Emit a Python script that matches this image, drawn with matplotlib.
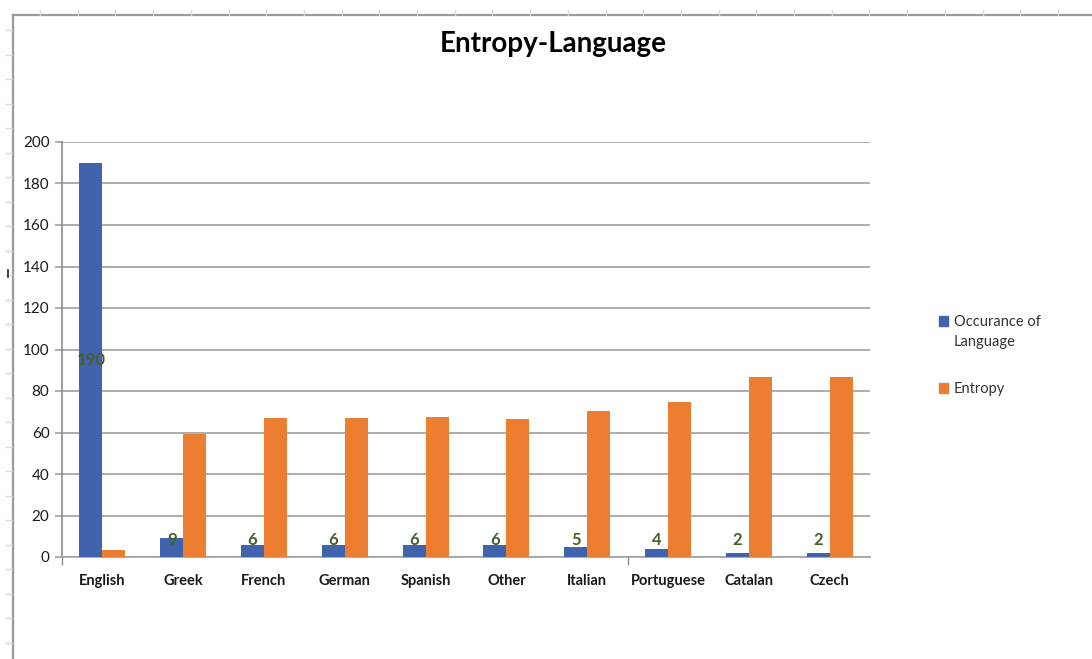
import matplotlib.pyplot as plt
from matplotlib.lines import Line2D
from matplotlib.patches import Rectangle
import numpy as np

# chart data
languages = ['English', 'Greek', 'French', 'German', 'Spanish',
             'Other', 'Italian', 'Portuguese', 'Catalan', 'Czech']
occurance = [190, 9, 6, 6, 6, 6, 5, 4, 2, 2]
entropy = [3.5, 59.5, 67.2, 67.2, 67.5, 66.5, 70.5, 74.5, 86.8, 86.8]
y_ticks = [0, 20, 40, 60, 80, 100, 120, 140, 160, 180, 200]

BLUE = '#3F64AD'
ORANGE = '#ED7D31'
GRID = '#A6A6A6'
LABEL_GREEN = '#44602A'

plt.rcParams['font.family'] = ['Lato', 'DejaVu Sans']

W, H = 1092, 659
fig = plt.figure(figsize=(W / 100, H / 100), dpi=100)
fig.patch.set_facecolor('white')

# worksheet frame around the chart object
def px_line(x0, y0, x1, y1, color, lw):
    fig.add_artist(Line2D([x0 / W, x1 / W], [1 - y0 / H, 1 - y1 / H],
                          color=color, lw=lw, transform=fig.transFigure))

px_line(13, 15, W, 15, '#9A9A9A', 1.6)
px_line(13, 15, 13, H, '#9A9A9A', 1.6)
for cx in np.arange(40, W, 37.7):
    px_line(cx, 10, cx, 15, '#D0D5E0', 1.0)
for cy in np.arange(30, H, 24.5):
    px_line(6, cy, 12, cy, '#D0D6E4', 1.0)
px_line(8, 270, 8, 277, '#222222', 1.2)

ax = fig.add_axes([62 / W, 1 - 557 / H, (870 - 62) / W, (557 - 142) / H])

x = np.arange(len(languages))
bw = 0.285
ax.bar(x - bw / 2, occurance, bw, color=BLUE, zorder=3)
ax.bar(x + bw / 2, entropy, bw, color=ORANGE, zorder=3)

# value labels on the occurance bars, kept clear of the axis line
for xi, v in zip(x, occurance):
    ax.text(xi - bw / 2, max(v / 2, 8.2), str(v), ha='center', va='center',
            fontsize=12, fontweight='bold', color=LABEL_GREEN, zorder=4)

ax.set_xlim(-0.5, len(languages) - 0.5)
ax.set_ylim(0, 200)
ax.set_yticks(y_ticks)
ax.set_xticks(x)
ax.set_xticklabels(languages, fontsize=10.5, fontweight='bold', color='#1A1A1A')
ax.tick_params(axis='x', length=0, pad=12)
ax.set_xticks([-0.5, 6.5], minor=True)
ax.tick_params(axis='x', which='minor', length=6, width=1, color='#8C8C8C')
ax.tick_params(axis='y', length=5, width=1.3, color=GRID, labelsize=11,
               labelcolor='#1A1A1A', pad=4)

ax.yaxis.grid(True, color=GRID, lw=1.3, zorder=0)
for side in ['top', 'right']:
    ax.spines[side].set_visible(False)
ax.spines['left'].set_color('#8C8C8C')
ax.spines['left'].set_linewidth(1.2)
ax.spines['bottom'].set_color(GRID)
ax.spines['bottom'].set_linewidth(1.3)

fig.text(553 / W, 1 - 44 / H, 'Entropy-Language', ha='center', va='center',
         fontsize=20, fontweight='bold', color='black')

# legend: square marker level with the first text line
legend_items = [('Occurance of\nLanguage', BLUE, 321), ('Entropy', ORANGE, 388)]
for text, color, ypx in legend_items:
    fig.add_artist(Rectangle((939 / W, 1 - (ypx + 5) / H), 9 / W, 10 / H,
                             color=color, transform=fig.transFigure))
    fig.text(954 / W, 1 - (ypx - 6) / H, text, ha='left', va='top',
             fontsize=10.5, color='#333333', linespacing=1.55)

fig.savefig('out.png', dpi=100)
